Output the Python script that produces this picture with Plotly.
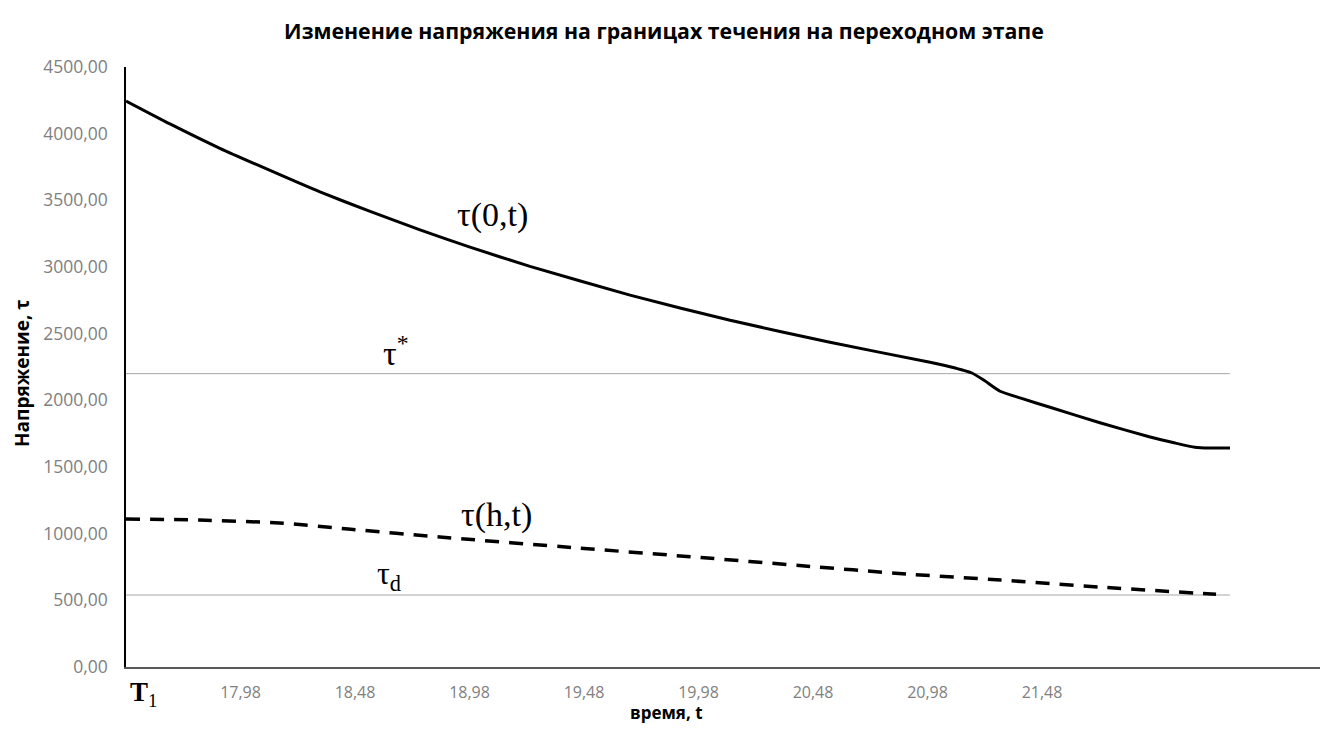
import plotly.graph_objects as go

# --- data ---
t_surface = [17.480, 17.672, 17.890, 18.109, 18.327, 18.546, 18.764, 18.982, 19.244,
             19.681, 20.118, 20.554, 20.991, 21.078, 21.174, 21.227, 21.297, 21.384,
             21.515, 21.733, 21.952, 22.061, 22.148, 22.214, 22.301]
tau_surface = [4245, 4073, 3890, 3724, 3563, 3417, 3279, 3149, 3005,
               2789, 2600, 2435, 2285, 2252, 2205, 2150, 2068, 2018,
               1948, 1832, 1725, 1680, 1648, 1642, 1642]

t_bottom = [17.48, 17.80, 18.15, 18.45, 18.85, 19.46, 19.99, 20.42, 20.89, 21.30,
            21.73, 22.24]
tau_bottom = [1110, 1102, 1080, 1035, 975, 892, 821, 761, 697, 652, 600, 545]

t_ref = [17.48, 22.30]
tau_star = [2200, 2200]
tau_d = [540, 540]

x_tickvals = [17.98, 18.48, 18.98, 19.48, 19.98, 20.48, 20.98, 21.48]
x_ticktext = ["17,98", "18,48", "18,98", "19,48", "19,98", "20,48", "20,98", "21,48"]
y_tickvals = [0, 500, 1000, 1500, 2000, 2500, 3000, 3500, 4000, 4500]
y_ticktext = ["0,00", "500,00", "1000,00", "1500,00", "2000,00", "2500,00",
              "3000,00", "3500,00", "4000,00", "4500,00"]

fig = go.Figure()
fig.add_trace(go.Scatter(x=t_ref, y=tau_star, mode="lines",
                         line=dict(color="#a6a6a6", width=1), hoverinfo="skip"))
fig.add_trace(go.Scatter(x=t_ref, y=tau_d, mode="lines",
                         line=dict(color="#a6a6a6", width=1), hoverinfo="skip"))
fig.add_trace(go.Scatter(x=t_surface, y=tau_surface, mode="lines",
                         line=dict(color="black", width=3, shape="spline", smoothing=0.5)))
fig.add_trace(go.Scatter(x=t_bottom, y=tau_bottom, mode="lines",
                         line=dict(color="black", width=3.5, dash="14px,10px",
                                   shape="spline", smoothing=0.7)))

serif = "Liberation Serif, Times New Roman, serif"
ann = [
    dict(x=19.08, y=3390, text="τ(0,t)", font=dict(family=serif, size=34, color="black")),
    dict(x=18.66, y=2370, text="τ<sup>*</sup>", font=dict(family=serif, size=34, color="black")),
    dict(x=19.10, y=1140, text="τ(h,t)", font=dict(family=serif, size=34, color="black")),
    dict(x=18.63, y=690, text="τ<sub>d</sub>", font=dict(family=serif, size=32, color="black")),
]
annotations = [dict(a, xref="x", yref="y", showarrow=False) for a in ann]
annotations.append(dict(xref="x", yref="paper", x=17.555, y=-0.013, yanchor="top",
                        showarrow=False, text="<b>T</b><sub>1</sub>",
                        font=dict(family=serif, size=27, color="black")))
annotations.append(dict(xref="paper", yref="paper", x=0.453, y=-0.075, yanchor="middle",
                        showarrow=False, text="<b>время, t</b>",
                        font=dict(family="Open Sans", size=17, color="black")))
annotations.append(dict(xref="paper", yref="paper", x=-0.0871, y=0.49, textangle=-90,
                        xanchor="center", yanchor="middle",
                        showarrow=False, text="<b>Напряжение, τ</b>",
                        font=dict(family="Open Sans", size=19, color="black")))

fig.update_layout(
    width=1314, height=726,
    margin=dict(l=118, r=2, t=59, b=67, autoexpand=False),
    paper_bgcolor="white", plot_bgcolor="white",
    showlegend=False,
    title=dict(text="<b>Изменение напряжения на границах течения на переходном этапе</b>",
               x=0.4992, xanchor="center", y=0.967, yanchor="middle",
               font=dict(family="Open Sans", size=21.3, color="black")),
    annotations=annotations,
    xaxis=dict(range=[17.48, 22.694], tickvals=x_tickvals, ticktext=x_ticktext,
               showgrid=False, zeroline=False, showline=True, linecolor="#595959",
               linewidth=1.5, ticks="", ticklabelstandoff=10, automargin=False,
               tickfont=dict(family="Open Sans", size=16, color="#808080")),
    yaxis=dict(range=[0, 4500], tickvals=y_tickvals, ticktext=y_ticktext,
               showgrid=False, zeroline=False, showline=True, linecolor="black",
               linewidth=1.5, ticks="", ticklabelstandoff=13, automargin=False,
               tickfont=dict(family="Open Sans", size=17.5, color="#808080")),
)

fig.write_html("out.html")
